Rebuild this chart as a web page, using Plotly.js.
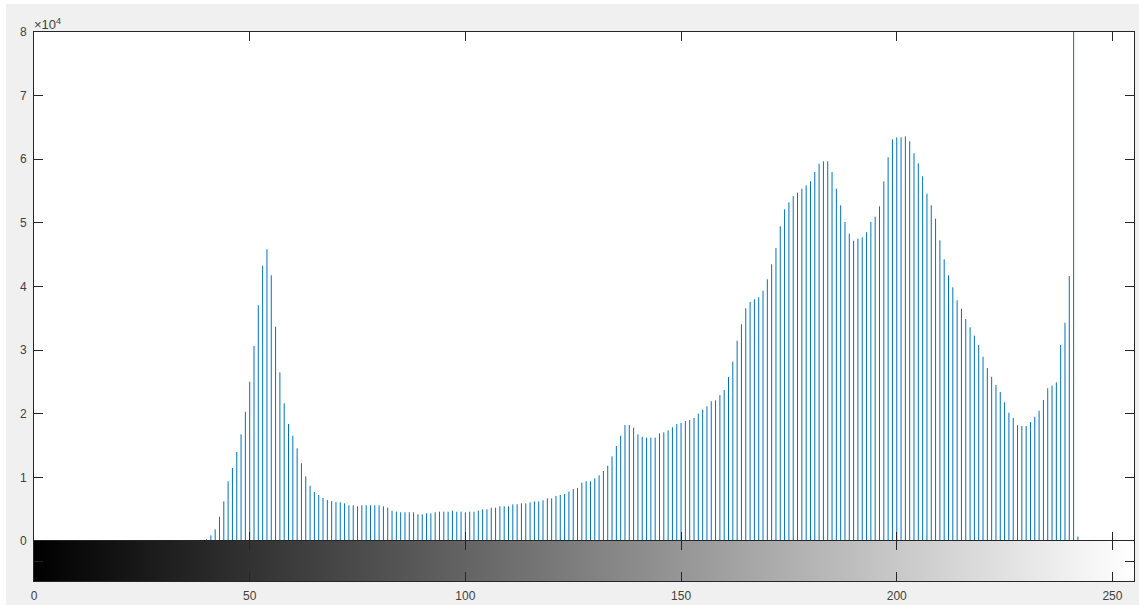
<!DOCTYPE html>
<html>
<head>
<meta charset="utf-8">
<script src="https://cdn.plot.ly/plotly-3.0.1.min.js"></script>
<style>
  html, body { margin: 0; padding: 0; background: #ffffff; width: 1139px; height: 605px; overflow: hidden; }
  #chart { position: absolute; left: 6px; top: 4px; width: 1133px; height: 601px; }
</style>
</head>
<body>
<div id="chart"></div>
<script>
// Intensity bins 0..255
const bins = Array.from({length: 256}, (_, i) => i);

// Pixel counts per intensity bin
const counts = [
  // 0-39
  0,0,0,0,0,0,0,0,0,0, 0,0,0,0,0,0,0,0,0,0,
  0,0,0,0,0,0,0,0,0,0, 0,0,0,0,0,0,0,0,0,0,
  // 40-49
  270,900,1840,3820,6240,9380,11470,13990,16770,20320,
  // 50-59
  25040,30650,37040,43270,45850,41760,33680,26510,21640,18390,
  // 60-69
  16550,14570,12210,10170,8690,7700,7230,6760,6440,6260,
  // 70-79
  6110,6080,5920,5610,5610,5450,5610,5610,5610,5610,
  // 80-89
  5610,5450,5240,4770,4610,4510,4510,4510,4510,4190,
  // 90-99
  4190,4350,4350,4510,4610,4610,4610,4770,4610,4610,
  // 100-109
  4510,4610,4610,4770,4980,4980,5240,5240,5450,5450,
  // 110-119
  5450,5760,5760,5920,5920,6080,6230,6230,6390,6700,
  // 120-129
  6700,7070,7230,7390,7760,8170,8330,9170,9380,9380,
  // 130-139
  9850,10320,11000,11840,13300,14930,16550,18230,18230,17810,
  // 140-149
  16760,16400,16240,16240,16240,16920,17080,17400,17870,18390,
  // 150-159
  18550,18860,19020,19330,20010,20640,21170,21960,22110,22950,
  // 160-169
  23730,25780,28180,31480,34060,36570,37560,37990,38300,39340,
  // 170-179
  41130,43490,46050,49460,52130,53230,54220,54750,55370,55900,
  // 180-189
  56530,58000,59300,59680,59680,58000,55370,52760,50140,48300,
  // 190-199
  47200,47510,47730,48520,50140,50970,52600,56530,60310,63130,
  // 200-209
  63450,63450,63600,62820,60950,59360,57320,54590,52760,50660,
  // 210-219
  47260,44270,41760,39870,37830,36510,34890,33590,32270,30810,
  // 220-229
  28970,27190,25820,24520,23420,21800,20170,19330,18180,18070,
  // 230-239
  18070,18700,19540,20480,22160,24000,24410,24940,30810,34310,
  // 240-249
  41650,98000,680,0,0,0,0,0,0,0,
  // 250-255
  0,0,0,0,0,0
];

const xTickVals = [0, 50, 100, 150, 200, 250];
const xTickText = ['0', '50', '100', '150', '200', '250'];
const yTickVals = [0, 10000, 20000, 30000, 40000, 50000, 60000, 70000, 80000];
const yTickText = ['0', '1', '2', '3', '4', '5', '6', '7', '8'];
const exponentLabel = '\u00d710<sup>4</sup>';

// Build stem segments from the data (x, 0) -> (x, count)
const stemX = [], stemY = [];
bins.forEach((b, i) => {
  if (counts[i] > 0) {
    stemX.push(b, b, null);
    stemY.push(0, counts[i], null);
  }
});

const axisColor = '#262626';
const tickFont = { family: 'Liberation Sans, Arial, Helvetica, sans-serif', size: 12, color: '#404040' };

const traces = [
  {
    type: 'scatter',
    mode: 'lines',
    x: stemX,
    y: stemY,
    xaxis: 'x',
    yaxis: 'y',
    line: { color: '#0072BD', width: 1 },
    hoverinfo: 'skip',
    showlegend: false
  },
  {
    type: 'heatmap',
    x: bins,
    y: [0, 1],
    z: [bins, bins],
    xaxis: 'x2',
    yaxis: 'y2',
    colorscale: [[0, '#000000'], [1, '#ffffff']],
    zmin: 0,
    zmax: 255,
    zsmooth: 'best',
    showscale: false,
    hoverinfo: 'skip'
  }
];

const cbFrac = 40 / 549;

const layout = {
  width: 1133,
  height: 601,
  paper_bgcolor: '#f0f0f0',
  plot_bgcolor: '#ffffff',
  margin: { l: 28, r: 5, t: 28, b: 24, pad: 0 },
  showlegend: false,
  xaxis: {
    anchor: 'y',
    range: [0, 255],
    tickvals: xTickVals,
    ticktext: xTickText,
    showticklabels: false,
    ticks: 'inside',
    ticklen: 9,
    tickwidth: 1,
    tickcolor: axisColor,
    showline: true,
    linecolor: axisColor,
    linewidth: 1,
    mirror: 'ticks',
    showgrid: false,
    zeroline: false,
    fixedrange: true
  },
  yaxis: {
    anchor: 'x',
    domain: [cbFrac, 1],
    range: [0, 80000],
    tickvals: yTickVals,
    ticktext: yTickText,
    ticks: 'inside',
    ticklen: 9,
    tickwidth: 1,
    tickcolor: axisColor,
    tickfont: tickFont,
    ticklabelstandoff: 4,
    showline: true,
    linecolor: axisColor,
    linewidth: 1,
    mirror: 'ticks',
    showgrid: false,
    zeroline: false,
    fixedrange: true
  },
  xaxis2: {
    anchor: 'y2',
    matches: 'x',
    range: [0, 255],
    tickvals: xTickVals,
    ticktext: xTickText,
    ticks: 'inside',
    ticklen: 9,
    tickwidth: 1,
    tickcolor: axisColor,
    tickfont: tickFont,
    ticklabelstandoff: 4,
    showline: true,
    linecolor: axisColor,
    linewidth: 1,
    mirror: 'ticks',
    showgrid: false,
    zeroline: false,
    fixedrange: true
  },
  yaxis2: {
    anchor: 'x2',
    domain: [0, cbFrac],
    range: [0, 1],
    tickvals: [0.5],
    showticklabels: false,
    ticks: 'inside',
    ticklen: 9,
    tickwidth: 1,
    tickcolor: axisColor,
    showline: true,
    linecolor: axisColor,
    linewidth: 1,
    mirror: 'ticks',
    showgrid: false,
    zeroline: false,
    fixedrange: true
  },
  annotations: [
    {
      text: exponentLabel,
      xref: 'paper',
      yref: 'paper',
      x: 0,
      y: 1,
      xanchor: 'left',
      yanchor: 'bottom',
      xshift: -2,
      yshift: -2,
      showarrow: false,
      font: { family: 'Liberation Sans, Arial, Helvetica, sans-serif', size: 13, color: '#404040' }
    }
  ]
};

Plotly.newPlot('chart', traces, layout, { displayModeBar: false, staticPlot: true });
</script>
</body>
</html>
